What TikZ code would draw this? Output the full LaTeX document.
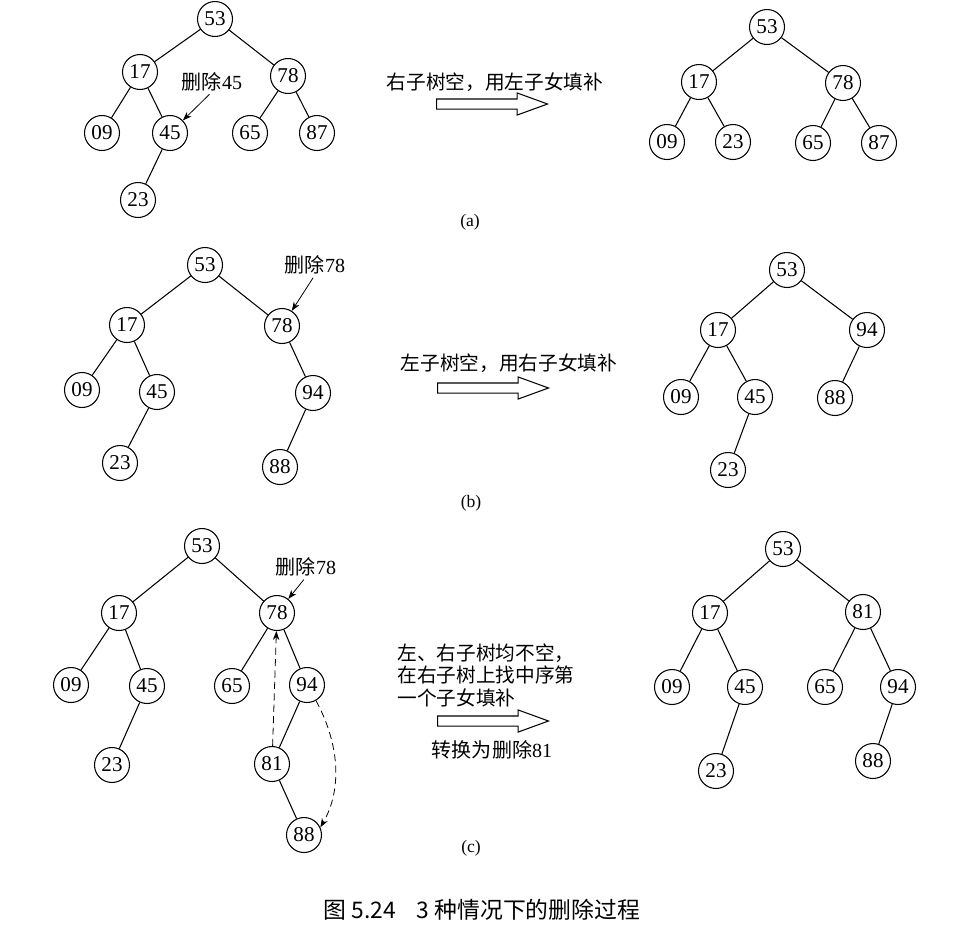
\documentclass[tikz,border=0pt]{standalone}
\usepackage{fontspec}
\setmainfont{Liberation Serif}
\newfontfamily\cjk{Noto Sans CJK SC}
\usetikzlibrary{arrows.meta,shapes.arrows}

\begin{document}
\begin{tikzpicture}[
  x=0.02cm, y=-0.02cm, line width=0.6pt,
  vertex/.style={draw, circle, minimum size=0.7cm, inner sep=0pt,
                 font=\fontsize{12}{12}\selectfont},
  fatarrow/.style={draw, single arrow, minimum height=2.22cm, minimum width=0.42cm,
                   single arrow head extend=0.12cm, single arrow tip angle=40,
                   inner xsep=0pt, inner ysep=0.09cm, anchor=tail},
  note/.style={font=\fontsize{11.2}{12.8}\selectfont\cjk, inner sep=0pt},
  tag/.style={font=\fontsize{11.4}{12}\selectfont, inner sep=0pt},
  sub/.style={font=\fontsize{10}{12}\selectfont, inner sep=0pt},
  ptr/.style={-{Stealth[length=1.8mm,width=1.3mm]}, line width=0.45pt},
  hop/.style={ptr, dash pattern=on 4pt off 2.5pt},
]
\useasboundingbox (0,0) rectangle (977,938);

% (a) right subtree empty
\node[vertex] (a53) at (215,19) {53};
\node[vertex] (a17) at (140,72) {17};
\node[vertex] (a78) at (288,76) {78};
\node[vertex] (a09) at (102,133) {09};
\node[vertex] (a45) at (170,133) {45};
\node[vertex] (a65) at (250,133) {65};
\node[vertex] (a87) at (317,133) {87};
\node[vertex] (a23) at (138,200) {23};
\node[tag] (aTag) at (212,82) {{\cjk 删除}45};
\draw (a53) -- (a17) (a53) -- (a78) (a17) -- (a09) (a17) -- (a45)
      (a45) -- (a23) (a78) -- (a65) (a78) -- (a87);
\draw[ptr, shorten <=2pt] (aTag.south) -- (a45);

\node[note] (aText) at (495,82) {右子树空，用左子女填补};
\node[fatarrow] (aArrow) at (436,104) {};

\node[vertex] (ar53) at (767,27) {53};
\node[vertex] (ar17) at (699,82) {17};
\node[vertex] (ar78) at (843,83) {78};
\node[vertex] (ar09) at (667,142) {09};
\node[vertex] (ar23) at (733,142) {23};
\node[vertex] (ar65) at (813,143) {65};
\node[vertex] (ar87) at (879,143) {87};
\draw (ar53) -- (ar17) (ar53) -- (ar78) (ar17) -- (ar09) (ar17) -- (ar23)
      (ar78) -- (ar65) (ar78) -- (ar87);
\node[sub] (aSub) at (470,222) {(a)};

% (b) left subtree empty
\node[vertex] (b53) at (205,265) {53};
\node[vertex] (b17) at (127,325) {17};
\node[vertex] (b78) at (282,326) {78};
\node[vertex] (b09) at (82,390) {09};
\node[vertex] (b45) at (157,392) {45};
\node[vertex] (b94) at (313,393) {94};
\node[vertex] (b23) at (120,463) {23};
\node[vertex] (b88) at (280,467) {88};
\node[tag] (bTag) at (315,265) {{\cjk 删除}78};
\draw (b53) -- (b17) (b53) -- (b78) (b17) -- (b09) (b17) -- (b45)
      (b45) -- (b23) (b78) -- (b94) (b94) -- (b88);
\draw[ptr, shorten <=2pt] (bTag.south) -- (b78);

\node[note] (bText) at (509,363) {左子树空，用右子女填补};
\node[fatarrow] (bArrow) at (437,388) {};

\node[vertex] (br53) at (787,270) {53};
\node[vertex] (br17) at (718,330) {17};
\node[vertex] (br94) at (867,330) {94};
\node[vertex] (br09) at (681,397) {09};
\node[vertex] (br45) at (755,397) {45};
\node[vertex] (br88) at (835,398) {88};
\node[vertex] (br23) at (728,470) {23};
\draw (br53) -- (br17) (br53) -- (br94) (br17) -- (br09) (br17) -- (br45)
      (br45) -- (br23) (br94) -- (br88);
\node[sub] (bSub) at (471,503) {(b)};

% (c) both subtrees present
\node[vertex] (c53) at (202,546) {53};
\node[vertex] (c17) at (119,613) {17};
\node[vertex] (c78) at (277,613) {78};
\node[vertex] (c09) at (71,685) {09};
\node[vertex] (c45) at (147,686) {45};
\node[vertex] (c65) at (232,686) {65};
\node[vertex] (c94) at (307,685) {94};
\node[vertex] (c23) at (112,765) {23};
\node[vertex] (c81) at (272,764) {81};
\node[vertex] (c88) at (304,835) {88};
\node[tag] (cTag) at (306,567) {{\cjk 删除}78};
\draw (c53) -- (c17) (c53) -- (c78) (c17) -- (c09) (c17) -- (c45)
      (c45) -- (c23) (c78) -- (c65) (c78) -- (c94) (c94) -- (c81) (c81) -- (c88);
\draw[ptr, shorten <=2pt] (cTag.south) -- (c78);
\draw[hop] (c81) -- (c78);
\draw[hop] (c94.-60) .. controls (340,745) and (342,790) .. (c88.25);

\node[note, anchor=west, align=left] (cText) at (397,675)
  {左、右子树均不空，\\在右子树上找中序第\\一个子女填补};
\node[fatarrow] (cArrow) at (437,721) {};
\node[tag] (cStep) at (492,750) {{\cjk 转换为删除}81};

\node[vertex] (cr53) at (783,549) {53};
\node[vertex] (cr17) at (710,613) {17};
\node[vertex] (cr81) at (863,612) {81};
\node[vertex] (cr09) at (672,687) {09};
\node[vertex] (cr45) at (745,687) {45};
\node[vertex] (cr65) at (825,687) {65};
\node[vertex] (cr94) at (898,687) {94};
\node[vertex] (cr23) at (716,771) {23};
\node[vertex] (cr88) at (873,761) {88};
\draw (cr53) -- (cr17) (cr53) -- (cr81) (cr17) -- (cr09) (cr17) -- (cr45)
      (cr45) -- (cr23) (cr81) -- (cr65) (cr81) -- (cr94) (cr94) -- (cr88);
\node[sub] (cSub) at (471,848) {(c)};

\node[font=\fontsize{13}{14}\selectfont\cjk, inner sep=0pt] (caption) at (482,910)
  {图 5.24\hspace{0.9em}3 种情况下的删除过程};
\end{tikzpicture}
\end{document}
